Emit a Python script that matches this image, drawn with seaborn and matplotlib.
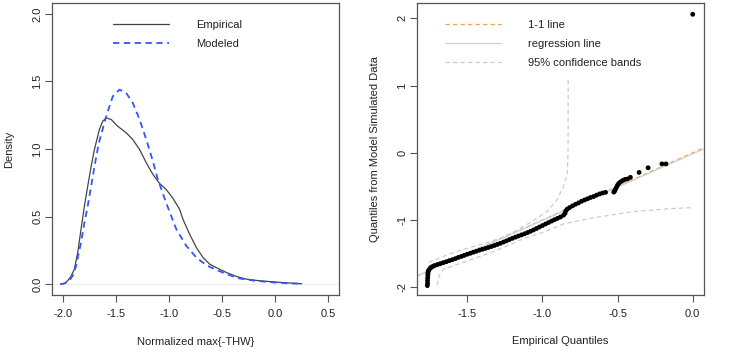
import matplotlib
matplotlib.use("Agg")
import matplotlib.pyplot as plt
from matplotlib.lines import Line2D
import seaborn as sns
import pandas as pd

# density curves (left panel)
emp_x = [-2.02, -1.98, -1.953, -1.92, -1.89, -1.858, -1.827, -1.795, -1.764, -1.732, -1.70,
         -1.654, -1.623, -1.59, -1.543, -1.481, -1.402, -1.34, -1.276, -1.213, -1.151, -1.088,
         -1.025, -0.962, -0.899, -0.868, -0.805, -0.742, -0.679, -0.616, -0.538, -0.458,
         -0.364, -0.27, -0.144, 0.013, 0.17, 0.249]
emp_y = [0.0, 0.006, 0.025, 0.06, 0.11, 0.234, 0.406, 0.578, 0.725, 0.87, 1.0,
         1.144, 1.205, 1.23, 1.218, 1.168, 1.12, 1.07, 0.996, 0.898, 0.812, 0.745,
         0.70, 0.635, 0.553, 0.48, 0.369, 0.271, 0.197, 0.148, 0.116, 0.086,
         0.057, 0.037, 0.025, 0.015, 0.007, 0.003]

mod_x = [-2.02, -1.98, -1.937, -1.90, -1.874, -1.827, -1.795, -1.764, -1.732, -1.70, -1.67,
         -1.654, -1.59, -1.528, -1.465, -1.402, -1.34, -1.276, -1.213, -1.151, -1.11, -1.088,
         -1.025, -0.962, -0.93, -0.836, -0.742, -0.647, -0.553, -0.458, -0.333, -0.207,
         -0.05, 0.108, 0.249]
mod_y = [0.0, 0.006, 0.025, 0.07, 0.135, 0.308, 0.455, 0.578, 0.725, 0.873, 1.0,
         1.06, 1.242, 1.39, 1.439, 1.415, 1.341, 1.218, 1.07, 0.91, 0.79, 0.74,
         0.60, 0.47, 0.406, 0.283, 0.197, 0.14, 0.106, 0.074, 0.042, 0.027,
         0.015, 0.007, 0.003]

# QQ plot (right panel)
emp_q = [-1.766, -1.765, -1.765, -1.764, -1.763, -1.762, -1.760, -1.755, -1.745, -1.735,
         -1.72, -1.70, -1.68, -1.66, -1.64, -1.62, -1.60, -1.58, -1.56, -1.54, -1.52,
         -1.50, -1.48, -1.46, -1.44, -1.42, -1.40, -1.38, -1.36, -1.34, -1.32, -1.30,
         -1.28, -1.26, -1.24, -1.22, -1.20, -1.18, -1.16, -1.14, -1.12, -1.10, -1.08,
         -1.06, -1.04, -1.02, -1.00, -0.98, -0.96, -0.94, -0.92, -0.90, -0.88, -0.86,
         -0.85, -0.845, -0.835, -0.82, -0.80, -0.78, -0.76, -0.74, -0.72, -0.70, -0.68,
         -0.66, -0.64, -0.62, -0.60, -0.58,
         -0.525, -0.52, -0.515, -0.508, -0.50, -0.492, -0.48, -0.465, -0.45, -0.435,
         -0.415, -0.357, -0.297, -0.205, -0.178, 0.0]
sim_q = [-1.975, -1.94, -1.90, -1.86, -1.82, -1.79, -1.76, -1.74, -1.71, -1.695,
         -1.678, -1.662, -1.648, -1.634, -1.620, -1.604, -1.590, -1.574, -1.556, -1.542, -1.525,
         -1.508, -1.494, -1.478, -1.464, -1.448, -1.435, -1.422, -1.408, -1.394, -1.378, -1.362,
         -1.346, -1.328, -1.310, -1.290, -1.272, -1.254, -1.238, -1.222, -1.205, -1.187, -1.168,
         -1.148, -1.126, -1.104, -1.082, -1.060, -1.038, -1.016, -0.995, -0.975, -0.955, -0.928,
         -0.900, -0.865, -0.838, -0.815, -0.790, -0.765, -0.745, -0.720, -0.702, -0.684, -0.665,
         -0.650, -0.630, -0.612, -0.598, -0.588,
         -0.585, -0.568, -0.545, -0.515, -0.48, -0.455, -0.432, -0.410, -0.395, -0.39,
         -0.365, -0.292, -0.223, -0.165, -0.165, 2.06]

upper_x = [-1.757, -1.70, -1.613, -1.50, -1.391, -1.282, -1.194, -1.083, -0.971, -0.905,
           -0.861, -0.834, -0.830, -0.829, -0.829]
upper_y = [-1.63, -1.58, -1.50, -1.42, -1.35, -1.27, -1.18, -1.04, -0.877, -0.703,
           -0.505, -0.307, 0.04, 0.60, 1.09]
lower_x = [-1.70, -1.69, -1.68, -1.66, -1.613, -1.50, -1.391, -1.282, -1.149, -1.083,
           -1.016, -0.861, -0.683, -0.50, -0.395, -0.284, -0.15, 0.0]
lower_y = [-1.97, -1.85, -1.79, -1.73, -1.695, -1.61, -1.521, -1.43, -1.30, -1.245,
           -1.20, -1.06, -0.976, -0.91, -0.875, -0.855, -0.83, -0.815]

reg_intercept = -0.015
reg_slope = 0.99

sns.set_theme(style="ticks")
plt.rcParams["font.family"] = ["Liberation Sans", "DejaVu Sans"]
fs = 8
box_col = "#555555"
txt_col = "#222222"
dash = (0, (3.5, 2.5))

fig = plt.figure(figsize=(7.29, 3.6), dpi=100)
ax1 = fig.add_axes([52 / 729, 1 - 295 / 360, 287 / 729, 292 / 360])
ax2 = fig.add_axes([417 / 729, 1 - 295 / 360, 287 / 729, 292 / 360])

dens_emp = pd.DataFrame({"x": emp_x, "y": emp_y})
dens_mod = pd.DataFrame({"x": mod_x, "y": mod_y})
ax1.axhline(0, color="#eeeeee", lw=0.8, zorder=0)
sns.lineplot(data=dens_emp, x="x", y="y", ax=ax1, color="#444444", lw=0.9,
             sort=False, estimator=None)
sns.lineplot(data=dens_mod, x="x", y="y", ax=ax1, color="#3355ff", lw=1.3,
             linestyle=dash, sort=False, estimator=None)
ax1.set_xlim(-2.1, 0.6)
ax1.set_ylim(-0.08, 2.08)
ax1.set_xticks([-2.0, -1.5, -1.0, -0.5, 0.0, 0.5])
ax1.set_xticklabels(["-2.0", "-1.5", "-1.0", "-0.5", "0.0", "0.5"])
ax1.set_yticks([0.0, 0.5, 1.0, 1.5, 2.0])
ax1.set_yticklabels(["0.0", "0.5", "1.0", "1.5", "2.0"])
ax1.set_xlabel("Normalized max{-THW}", fontsize=fs)
ax1.set_ylabel("Density", fontsize=fs)
ax1.xaxis.set_label_coords(0.5, -0.161)
ax1.yaxis.set_label_coords(-0.15, 0.5)
ax1.legend(handles=[
    Line2D([], [], color="#444444", lw=0.9),
    Line2D([], [], color="#3355ff", lw=1.3, linestyle=dash)],
    labels=["Empirical", "Modeled"], loc="upper left", bbox_to_anchor=(0.2125, 0.942),
    frameon=False, fontsize=fs, handlelength=5.0, handletextpad=2.5,
    labelspacing=0.8, borderpad=0, borderaxespad=0)

qq = pd.DataFrame({"emp": emp_q, "sim": sim_q})
ax2.axline((0, 0), slope=1, color="#f5a050", lw=0.9, linestyle=dash, zorder=1)
ax2.axline((0, reg_intercept), slope=reg_slope, color="#d0d0d0", lw=0.9, zorder=1)
ax2.plot(upper_x, upper_y, color="#cccccc", lw=0.9, linestyle=dash, zorder=1)
ax2.plot(lower_x, lower_y, color="#cccccc", lw=0.9, linestyle=dash, zorder=1)
sns.scatterplot(data=qq, x="emp", y="sim", ax=ax2, color="black", s=12,
                edgecolor="none", zorder=3)
ax2.set_xlim(-1.835, 0.075)
ax2.set_ylim(-2.115, 2.228)
ax2.set_xticks([-1.5, -1.0, -0.5, 0.0])
ax2.set_xticklabels(["-1.5", "-1.0", "-0.5", "0.0"])
ax2.set_yticks([-2, -1, 0, 1, 2])
ax2.set_yticklabels(["-2", "-1", "0", "1", "2"])
ax2.set_xlabel("Empirical Quantiles", fontsize=fs)
ax2.set_ylabel("Quantiles from Model Simulated Data", fontsize=fs)
ax2.xaxis.set_label_coords(0.5, -0.158)
ax2.yaxis.set_label_coords(-0.146, 0.5)
ax2.legend(handles=[
    Line2D([], [], color="#f5a050", lw=0.9, linestyle=dash),
    Line2D([], [], color="#d0d0d0", lw=0.9),
    Line2D([], [], color="#cccccc", lw=0.9, linestyle=dash)],
    labels=["1-1 line", "regression line", "95% confidence bands"],
    loc="upper left", bbox_to_anchor=(0.0976, 0.942), frameon=False, fontsize=fs,
    handlelength=5.0, handletextpad=2.5, labelspacing=0.8, borderpad=0, borderaxespad=0)

for ax in (ax1, ax2):
    ax.set_facecolor("white")
    for sp in ax.spines.values():
        sp.set_visible(True)
        sp.set_color(box_col)
        sp.set_linewidth(0.9)
    ax.tick_params(axis="both", direction="out", length=5, width=0.8, color=box_col,
                   labelsize=fs, labelcolor=txt_col)
    ax.tick_params(axis="x", pad=5)
    ax.tick_params(axis="y", pad=2)
    for lab in ax.get_yticklabels():
        lab.set_rotation(90)
        lab.set_va("center")
    ax.xaxis.label.set_va("center")
    ax.yaxis.label.set_va("center")
    ax.xaxis.label.set_color(txt_col)
    ax.yaxis.label.set_color(txt_col)
    for t in ax.get_legend().get_texts():
        t.set_color(txt_col)

fig.savefig("out.png", dpi=100, facecolor="white")
